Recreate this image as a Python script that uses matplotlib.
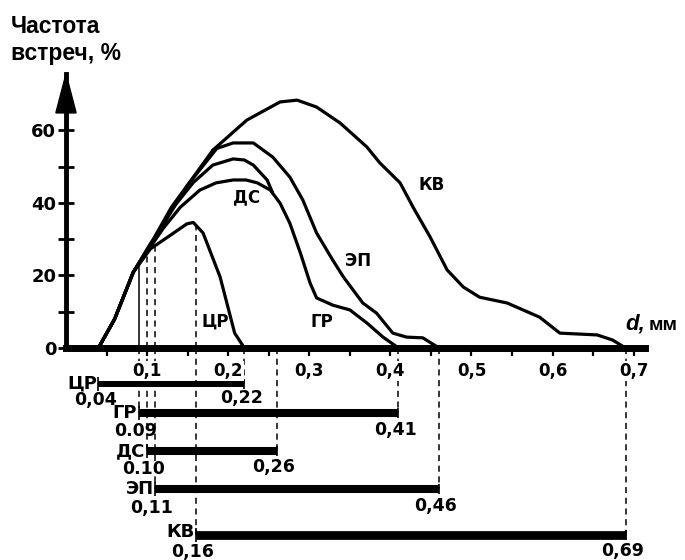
import numpy as np
import matplotlib
matplotlib.use("Agg")
import matplotlib.pyplot as plt
from matplotlib.patches import Polygon

plt.rcParams['font.family'] = ['DejaVu Sans']

# ---------------- data ----------------
names = ['ЦР', 'ГР', 'ДС', 'ЭП', 'КВ']

cr_d = [0.04, 0.06, 0.083, 0.104, 0.125, 0.149, 0.157, 0.169, 0.19, 0.208, 0.22]
cr_f = [0, 8, 20.9, 27.3, 30.5, 34.2, 34.6, 31.7, 19.6, 4.1, 0]

gr_d = [0.04, 0.06, 0.083, 0.104, 0.12, 0.141, 0.165, 0.185, 0.206, 0.222, 0.236,
        0.252, 0.264, 0.276, 0.289, 0.301, 0.309, 0.329, 0.35, 0.371, 0.391, 0.41]
gr_f = [0, 8, 20.9, 27.8, 33, 38.8, 43.5, 45.5, 46.3, 46.3, 45.5,
        43.5, 39.9, 34.4, 26.2, 17.9, 13.8, 11.8, 10.5, 6.9, 3.0, 0]

ds_d = [0.04, 0.06, 0.083, 0.104, 0.128, 0.157, 0.181, 0.206, 0.22, 0.231, 0.248, 0.254]
ds_f = [0, 8, 20.9, 28.2, 37.5, 45.6, 50.4, 52.1, 51.8, 50.4, 46.3, 43.2]

ep_d = [0.04, 0.06, 0.083, 0.104, 0.13, 0.149, 0.17, 0.186, 0.206, 0.231, 0.255,
        0.276, 0.292, 0.309, 0.329, 0.342, 0.354, 0.366, 0.383, 0.403, 0.42, 0.44, 0.46]
ep_f = [0, 8, 20.9, 28.5, 38.8, 44.6, 50.5, 55, 56.5, 56.5, 52.6,
        47.1, 40.8, 31.7, 24.2, 19.6, 16.0, 12.4, 9.6, 4.1, 3.0, 2.8, 0]

kv_d = [0.04, 0.06, 0.083, 0.104, 0.116, 0.149, 0.181, 0.223, 0.264, 0.285, 0.309,
        0.338, 0.371, 0.387, 0.412, 0.428, 0.449, 0.47, 0.49, 0.51, 0.544, 0.584,
        0.609, 0.655, 0.674, 0.69]
kv_f = [0, 8, 20.9, 28.7, 32.5, 44.6, 54.5, 62.8, 67.8, 68.3, 66.4,
        62.0, 55.4, 51.0, 45.5, 38.8, 30.6, 21.5, 16.8, 14.0, 12.4, 8.5,
        4.1, 3.6, 2.2, 0]

range_start = [0.04, 0.09, 0.10, 0.11, 0.16]
range_end = [0.22, 0.41, 0.26, 0.46, 0.69]
start_labels = ['0,04', '0.09', '0.10', '0,11', '0,16']
end_labels = ['0,22', '0,41', '0,26', '0,46', '0,69']

x_ticks = [0.1, 0.2, 0.3, 0.4, 0.5, 0.6, 0.7]
x_tick_labels = ['0,1', '0,2', '0,3', '0,4', '0,5', '0,6', '0,7']
x_minor = [0.05, 0.15, 0.25, 0.35, 0.45, 0.55, 0.65]
y_ticks = [0, 20, 40, 60]
y_tick_labels = ['0', '20', '40', '60']
y_minor = [10, 30, 50]

# ---------------- layout ----------------
W, H = 685, 560
fig = plt.figure(figsize=(W / 100, H / 100), dpi=100)
fig.patch.set_facecolor('white')

ax2 = fig.add_axes([66 / W, 0, 579 / W, (H - 348) / H])
ax = fig.add_axes([66 / W, (H - 348) / H, 579 / W, 274 / H], sharex=ax2)
ax.set_zorder(2)
ax.patch.set_visible(False)

ax.set_xlim(0, 0.714)
ax.set_ylim(0, 75.5)

curves = [(cr_d, cr_f), (gr_d, gr_f), (ds_d, ds_f), (ep_d, ep_f), (kv_d, kv_f)]
for d, f in curves:
    ax.plot(d, f, color='black', lw=2.3, solid_joinstyle='round', clip_on=False)

# vertical marks up to the ЦР curve at range starts
for i, xs in enumerate(range_start[1:]):
    h = np.interp(xs, cr_d, cr_f)
    ax.vlines(xs, 0, h, colors='black', lw=1.1,
              linestyles='solid' if i == 0 else (0, (4, 3)))

# curve labels
lab_pos = {'ЦР': (0.184, 7.2), 'ГР': (0.316, 7.2), 'ДС': (0.223, 41.6),
           'ЭП': (0.36, 24.0), 'КВ': (0.451, 44.9)}
for n in names:
    x, y = lab_pos[n]
    ax.text(x, y, n, ha='center', va='center', fontsize=12, fontweight='bold')

# spines / ticks
for s in ['top', 'right']:
    ax.spines[s].set_visible(False)
ax.spines['bottom'].set_linewidth(5)
ax.spines['left'].set_linewidth(3.5)
ax.spines['bottom'].set_zorder(3)

ax.set_xticks(x_ticks)
ax.set_xticklabels(x_tick_labels, fontsize=12, fontweight='bold')
ax.set_xticks(x_minor, minor=True)
ax.tick_params(axis='x', which='both', direction='out', length=6, width=1.6, pad=4)
for t in ax.get_xticklabels():
    t.set_bbox(dict(facecolor='white', edgecolor='none', pad=0.5))

ax.set_yticks(y_ticks)
ax.set_yticklabels(y_tick_labels, fontsize=13, fontweight='bold')
ax.set_yticks(y_minor, minor=True)
ax.tick_params(axis='y', which='both', direction='inout', length=12, width=2, pad=1)

# arrow on y axis
arrow = Polygon([[0, 1.0], [-0.0175, 0.858], [0.0175, 0.858]], closed=True,
                transform=ax.transAxes, facecolor='black', edgecolor='black',
                clip_on=False, zorder=5)
ax.add_patch(arrow)

# ---------------- range bars ----------------
ax2.set_ylim(212, 0)
ax2.axis('off')
rows = [36, 65, 103, 141, 187]
bar_lw = [4.3, 5.8, 5.8, 5.8, 6.3]
name_off = [0, 0, 0, 0, -3]
start_off = [16, 18, 18, 19, 17]
end_off = [14, 17, 16, 17, 16]

for i, n in enumerate(names):
    s, e, r = range_start[i], range_end[i], rows[i]
    ax2.hlines(r, s, e, colors='black', lw=bar_lw[i], capstyle='butt')
    ax2.vlines(s, r - 7, r + 7, colors='black', lw=1.2)
    ax2.vlines(e, r - 5, r + 5, colors='black', lw=1.2)
    if i > 0:
        ax2.vlines(s, 0, r, colors='black', lw=1.1, linestyles=(0, (4, 3)))
    ax2.vlines(e, 0, r, colors='black', lw=1.1, linestyles=(0, (4, 3)))
    ax2.text(s - 0.002, r + name_off[i], n, ha='right', va='center', fontsize=13,
             fontweight='bold')
    ax2.text(s - 0.004, r + start_off[i], start_labels[i], ha='center', va='center',
             fontsize=12.5, fontweight='bold')
    ax2.text(e - 0.004, r + end_off[i], end_labels[i], ha='center', va='center',
             fontsize=12.5, fontweight='bold')

# ---------------- titles ----------------
fig.text(11 / W, 1 - 15 / H, 'Частота\nвстреч, %', ha='left', va='top',
         fontsize=16.5, fontweight='bold', family=['Liberation Sans', 'DejaVu Sans'],
         linespacing=1.2)
fig.text(625 / W, 1 - 324 / H, 'd,', ha='left', va='center', fontsize=16,
         fontweight='bold', style='italic', family=['Liberation Sans', 'DejaVu Sans'])
fig.text(649 / W, 1 - 325 / H, 'мм', ha='left', va='center', fontsize=14,
         fontweight='bold', family=['Liberation Sans', 'DejaVu Sans'])

fig.savefig('out.png', dpi=100)
